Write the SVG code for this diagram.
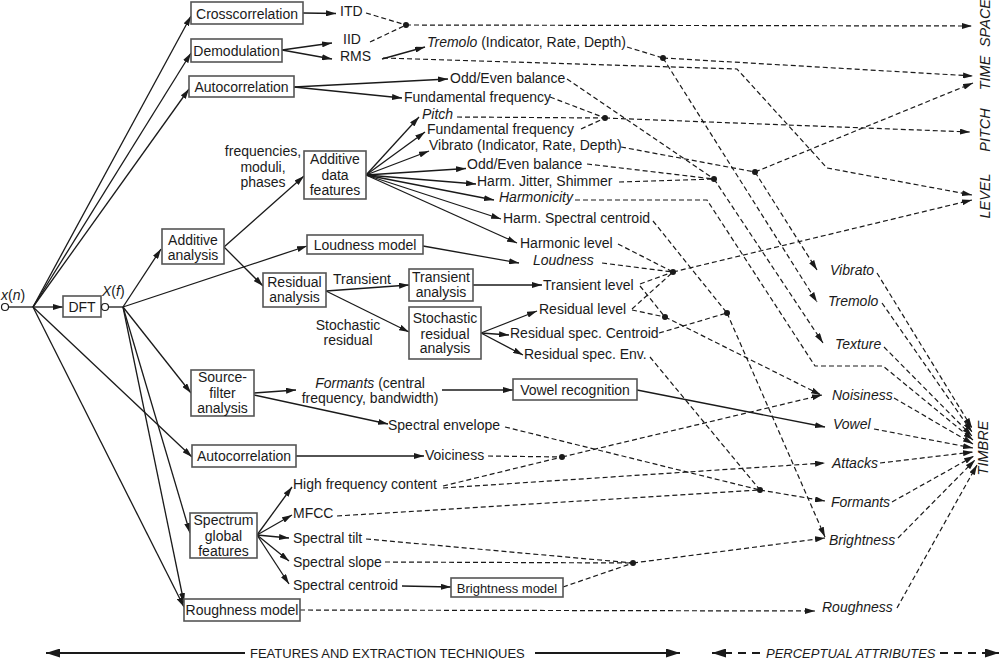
<svg xmlns="http://www.w3.org/2000/svg" width="1001" height="659" viewBox="0 0 1001 659">
<defs>
<marker id="a" viewBox="0 0 10 6" refX="10" refY="3" markerWidth="10" markerHeight="6" markerUnits="userSpaceOnUse" orient="auto"><path d="M0,0L10,3L0,6z" fill="#1a1a1a"/></marker>
<marker id="b" viewBox="0 0 14 9" refX="14" refY="4.5" markerWidth="14" markerHeight="9" markerUnits="userSpaceOnUse" orient="auto"><path d="M0,0L14,4.5L0,9z" fill="#1a1a1a"/></marker>
</defs>
<style>
text{font-family:"Liberation Sans",Arial,Helvetica,sans-serif;font-size:14px;fill:#1a1a1a}
.i{font-style:italic}
.c{text-anchor:middle}
.v{font-style:italic;font-size:14.5px;text-anchor:middle}
.ax{font-size:13px}
rect{fill:#fff;stroke:#555;stroke-width:1.6}
.s{stroke:#1a1a1a;stroke-width:1.3;fill:none}
.sa{stroke:#1a1a1a;stroke-width:1.3;fill:none;marker-end:url(#a)}
.d{stroke:#1a1a1a;stroke-width:1.2;fill:none;stroke-dasharray:5 3}
.da{stroke:#1a1a1a;stroke-width:1.2;fill:none;stroke-dasharray:5 3;marker-end:url(#a)}
.dot{fill:#1a1a1a}
.port{fill:#fff;stroke:#1a1a1a;stroke-width:1.2}
.axl{stroke:#1a1a1a;stroke-width:2;fill:none;marker-end:url(#b)}
.axd{stroke:#1a1a1a;stroke-width:2;fill:none;stroke-dasharray:8 6;marker-end:url(#b)}
</style>
<g id="connectors">
<path class="s" d="M8.5,307H33"/>
<path class="sa" d="M33,307H63"/>
<path class="sa" d="M33,307L191,16"/>
<path class="sa" d="M33,307L191,53"/>
<path class="sa" d="M33,307L189,89"/>
<path class="sa" d="M33,307L192,457"/>
<path class="sa" d="M33,307L184,607"/>
<path class="s" d="M108.5,307H123"/>
<path class="sa" d="M123,307L161,249"/>
<path class="sa" d="M123,307L307,246"/>
<path class="sa" d="M123,307L191,393"/>
<path class="sa" d="M123,307L190,533"/>
<path class="sa" d="M123,307L184,603"/>
<path class="sa" d="M303,13L336,13.5"/>
<path class="sa" d="M282,50L332,43"/>
<path class="sa" d="M282,50L332,59"/>
<path class="sa" d="M382,59L425,47"/>
<path class="sa" d="M294,87L448,79"/>
<path class="sa" d="M294,87L402,98"/>
<path class="sa" d="M224,247L304,176"/>
<path class="sa" d="M224,247L263,286"/>
<path class="sa" d="M366,175L419,117"/>
<path class="sa" d="M366,175L425,132"/>
<path class="sa" d="M366,175L429,151"/>
<path class="sa" d="M366,175L466,168.5"/>
<path class="sa" d="M366,175L476,184"/>
<path class="sa" d="M366,175L494,200"/>
<path class="sa" d="M366,175L501,219"/>
<path class="sa" d="M366,175L517,243"/>
<path class="sa" d="M423,246L519,263"/>
<path class="sa" d="M326,291L409,285"/>
<path class="sa" d="M326,291L409,332"/>
<path class="sa" d="M473,285L542,285"/>
<path class="sa" d="M481,333L537,311"/>
<path class="sa" d="M481,333L509,335"/>
<path class="sa" d="M481,333L523,355"/>
<path class="sa" d="M254,393L296,390"/>
<path class="sa" d="M254,395L388,424"/>
<path class="sa" d="M442,390L513,390"/>
<path class="sa" d="M637,390L825,427"/>
<path class="sa" d="M296,456L424,456"/>
<path class="sa" d="M257,535L292,487"/>
<path class="sa" d="M257,535L292,515"/>
<path class="sa" d="M257,535L289,538"/>
<path class="sa" d="M257,535L289,561"/>
<path class="sa" d="M257,535L289,584"/>
<path class="sa" d="M402,586L451,587"/>
<path class="d" d="M366,13L406,25"/>
<path class="d" d="M370,42L406,25"/>
<path class="da" d="M406,25L972,26"/>
<path class="d" d="M627,47L663,58"/>
<path class="da" d="M663,58L973,76"/>
<path class="da" d="M663,58L817,302"/>
<path class="da" d="M383,58L737,69L827,168L972,195"/>
<path class="d" d="M567,79L714,179"/>
<path class="d" d="M550,97L605,118"/>
<path class="d" d="M457,117L605,118"/>
<path class="d" d="M581,129L605,118"/>
<path class="da" d="M605,118L970,132"/>
<path class="d" d="M621,147L755,172"/>
<path class="da" d="M755,172L973,83"/>
<path class="da" d="M755,172L817,270"/>
<path class="d" d="M587,164L714,179"/>
<path class="d" d="M619,182L714,179"/>
<path class="da" d="M714,179L823,343"/>
<path class="da" d="M575,200L707,200L815,366L883,366L973,440"/>
<path class="d" d="M653,221L727,313"/>
<path class="d" d="M618,244L673,272"/>
<path class="d" d="M602,263L673,272"/>
<path class="d" d="M640,284L673,272"/>
<path class="d" d="M640,286L665,317"/>
<path class="d" d="M632,309L673,272"/>
<path class="d" d="M632,310L665,317"/>
<path class="da" d="M673,272L972,200"/>
<path class="da" d="M665,317L821,395"/>
<path class="d" d="M659,333L727,313"/>
<path class="da" d="M727,313L825,537"/>
<path class="d" d="M650,357L760,490"/>
<path class="d" d="M505,427L760,490"/>
<path class="d" d="M337,516L760,490"/>
<path class="da" d="M760,490L825,501"/>
<path class="d" d="M488,456L562,457"/>
<path class="d" d="M443,486L562,457"/>
<path class="da" d="M443,488L825,463"/>
<path class="da" d="M562,457L822,395"/>
<path class="d" d="M366,539L633,563"/>
<path class="d" d="M385,562L633,563"/>
<path class="d" d="M563,587L633,563"/>
<path class="da" d="M633,563L825,538"/>
<path class="da" d="M300,610L815,611"/>
<path class="da" d="M877,273L972,428"/>
<path class="da" d="M882,303L972,432"/>
<path class="da" d="M884,347L972,436"/>
<path class="da" d="M894,398L973,444"/>
<path class="da" d="M874,429L973,448"/>
<path class="da" d="M880,463L973,452"/>
<path class="da" d="M892,502L974,456"/>
<path class="da" d="M898,538L975,460"/>
<path class="da" d="M897,608L977,465"/>
<circle class="dot" cx="406" cy="25" r="3"/>
<circle class="dot" cx="663" cy="58" r="3"/>
<circle class="dot" cx="605" cy="118" r="3"/>
<circle class="dot" cx="755" cy="172" r="3"/>
<circle class="dot" cx="714" cy="179" r="3"/>
<circle class="dot" cx="673" cy="272" r="3"/>
<circle class="dot" cx="665" cy="317" r="3"/>
<circle class="dot" cx="727" cy="313" r="3"/>
<circle class="dot" cx="760" cy="490" r="3"/>
<circle class="dot" cx="562" cy="457" r="3"/>
<circle class="dot" cx="633" cy="563" r="3"/>
<path class="axl" d="M245,653H46"/>
<path class="axl" d="M535,653H680"/>
<path class="axd" d="M760,653H712"/>
<path class="axd" d="M940,653H999"/>
</g>
<g id="xn"><circle class="port" cx="5" cy="307" r="3.5"/><text x="1" y="300"><tspan class="i">x</tspan>(<tspan class="i">n</tspan>)</text></g>
<g id="dft"><rect x="63" y="296" width="38" height="21"/><text class="c" x="82" y="312">DFT</text></g>
<g id="xf"><circle class="port" cx="105" cy="307" r="3.5"/><text x="102" y="296"><tspan class="i">X</tspan>(<tspan class="i">f</tspan>)</text></g>
<g id="crosscorrelation"><rect x="191" y="2" width="112" height="22"/><text class="c" x="247" y="18.5">Crosscorrelation</text></g>
<g id="demodulation"><rect x="191" y="39" width="91" height="23"/><text class="c" x="236.5" y="55.5">Demodulation</text></g>
<g id="autocorrelation1"><rect x="189" y="76" width="105" height="21"/><text class="c" x="241.5" y="91.5">Autocorrelation</text></g>
<g id="additive-data-features"><rect x="304" y="151" width="62" height="48"/><text class="c" x="335" y="164">Additive</text><text class="c" x="335" y="180">data</text><text class="c" x="335" y="195">features</text></g>
<g id="freq-moduli-phases"><text class="c" x="263" y="156">frequencies,</text><text class="c" x="263" y="172">moduli,</text><text class="c" x="263" y="187">phases</text></g>
<g id="additive-analysis"><rect x="162" y="229" width="62" height="35"/><text class="c" x="193" y="245">Additive</text><text class="c" x="193" y="260">analysis</text></g>
<g id="loudness-model"><rect x="307" y="235" width="116" height="19"/><text class="c" x="365" y="250">Loudness model</text></g>
<g id="residual-analysis"><rect x="263" y="273" width="63" height="34"/><text class="c" x="294.5" y="287">Residual</text><text class="c" x="294.5" y="302">analysis</text></g>
<g id="transient-label"><text x="333" y="283.5">Transient</text></g>
<g id="stochastic-label"><text class="c" x="348" y="330">Stochastic</text><text class="c" x="348" y="345">residual</text></g>
<g id="transient-analysis"><rect x="409" y="269" width="64" height="32"/><text class="c" x="441" y="282">Transient</text><text class="c" x="441" y="297">analysis</text></g>
<g id="stochastic-residual-analysis"><rect x="409" y="307" width="72" height="52"/><text class="c" x="445" y="323">Stochastic</text><text class="c" x="445" y="338.5">residual</text><text class="c" x="445" y="353">analysis</text></g>
<g id="source-filter"><rect x="191" y="370" width="63" height="46"/><text class="c" x="222.5" y="382">Source-</text><text class="c" x="222.5" y="398">filter</text><text class="c" x="222.5" y="413">analysis</text></g>
<g id="vowel-recognition"><rect x="513" y="379" width="124" height="21"/><text class="c" x="575" y="395">Vowel recognition</text></g>
<g id="autocorrelation2"><rect x="192" y="445" width="104" height="22"/><text class="c" x="244" y="461">Autocorrelation</text></g>
<g id="spectrum-global"><rect x="190" y="513" width="67" height="45"/><text class="c" x="223.5" y="525">Spectrum</text><text class="c" x="223.5" y="541">global</text><text class="c" x="223.5" y="556">features</text></g>
<g id="roughness-model"><rect x="184" y="599" width="116" height="22"/><text class="c" x="242" y="615">Roughness model</text></g>
<g id="brightness-model"><rect x="451" y="578" width="112" height="19"/><text class="c" x="507" y="592.5" style="font-size:13px">Brightness model</text></g>
<g id="itd"><text x="340" y="16">ITD</text></g>
<g id="iid"><text x="343" y="43.5">IID</text></g>
<g id="rms"><text x="340" y="61">RMS</text></g>
<g id="tremolo-feat"><text x="427" y="47"><tspan class="i">Tremolo</tspan> (Indicator, Rate, Depth)</text></g>
<g id="oddeven1"><text x="450" y="83">Odd/Even balance</text></g>
<g id="fundfreq1"><text x="404" y="102">Fundamental frequency</text></g>
<g id="pitch-feat"><text class="i" x="422" y="118.5">Pitch</text></g>
<g id="fundfreq2"><text x="427" y="133.5">Fundamental frequency</text></g>
<g id="vibrato-feat"><text x="429" y="149.5">Vibrato (Indicator, Rate, Depth)</text></g>
<g id="oddeven2"><text x="467" y="169">Odd/Even balance</text></g>
<g id="jitter"><text x="477" y="186">Harm. Jitter, Shimmer</text></g>
<g id="harmonicity"><text class="i" x="499" y="202">Harmonicity</text></g>
<g id="harm-centroid"><text x="503" y="222.5">Harm. Spectral centroid</text></g>
<g id="harmonic-level"><text x="520" y="248">Harmonic level</text></g>
<g id="loudness"><text class="i" x="533" y="265">Loudness</text></g>
<g id="transient-level"><text x="543" y="290">Transient level</text></g>
<g id="residual-level"><text x="539" y="313.5">Residual level</text></g>
<g id="residual-centroid"><text x="510" y="338">Residual spec. Centroid</text></g>
<g id="residual-env"><text x="524" y="358.5">Residual spec. Env.</text></g>
<g id="formants-feat"><text class="c" x="370" y="388"><tspan class="i">Formants</tspan> (central</text><text class="c" x="370" y="403">frequency, bandwidth)</text></g>
<g id="spectral-envelope"><text x="388" y="430">Spectral envelope</text></g>
<g id="voiciness"><text x="425" y="460">Voiciness</text></g>
<g id="hfc"><text x="293" y="488.5">High frequency content</text></g>
<g id="mfcc"><text x="293" y="518">MFCC</text></g>
<g id="tilt"><text x="293" y="542.5">Spectral tilt</text></g>
<g id="slope"><text x="293" y="567">Spectral slope</text></g>
<g id="centroid"><text x="293" y="590">Spectral centroid</text></g>
<g id="p-vibrato"><text class="i" x="830" y="275">Vibrato</text></g>
<g id="p-tremolo"><text class="i" x="828" y="306">Tremolo</text></g>
<g id="p-texture"><text class="i" x="835" y="348.5">Texture</text></g>
<g id="p-noisiness"><text class="i" x="832" y="400">Noisiness</text></g>
<g id="p-vowel"><text class="i" x="833" y="429">Vowel</text></g>
<g id="p-attacks"><text class="i" x="832" y="468">Attacks</text></g>
<g id="p-formants"><text class="i" x="831" y="507">Formants</text></g>
<g id="p-brightness"><text class="i" x="829" y="544.5">Brightness</text></g>
<g id="p-roughness"><text class="i" x="822" y="612">Roughness</text></g>
<g id="space"><text class="v" transform="translate(990,23) rotate(-90)">SPACE</text></g>
<g id="time"><text class="v" transform="translate(990,73) rotate(-90)">TIME</text></g>
<g id="pitch"><text class="v" transform="translate(990,130) rotate(-90)">PITCH</text></g>
<g id="level"><text class="v" transform="translate(990,196) rotate(-90)">LEVEL</text></g>
<g id="timbre"><text class="v" transform="translate(988,448) rotate(-90)">TIMBRE</text></g>
<g id="axis-labels"><text class="ax" x="250" y="657.5">FEATURES AND EXTRACTION TECHNIQUES</text><text class="ax i" x="766" y="657.5">PERCEPTUAL ATTRIBUTES</text></g>
</svg>
